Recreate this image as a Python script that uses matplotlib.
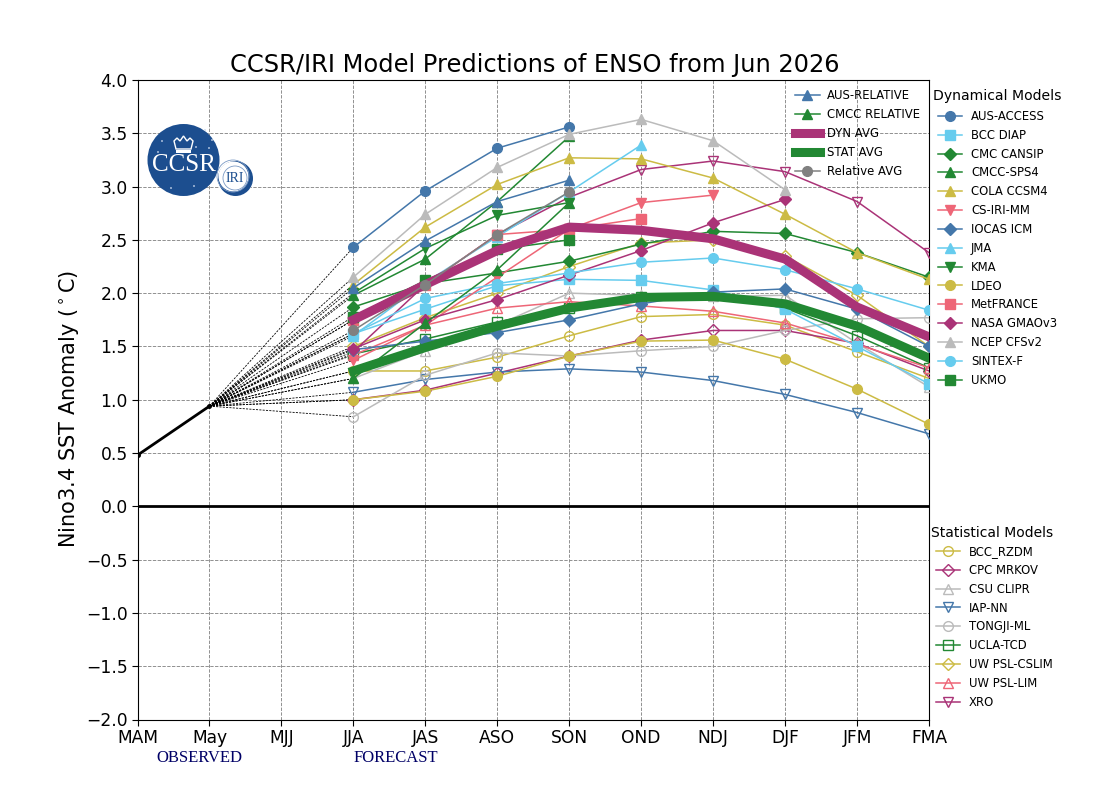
import matplotlib
matplotlib.use("Agg")
import matplotlib.pyplot as plt
from matplotlib.patches import Circle, Polygon

seasons = ["MAM", "May", "MJJ", "JJA", "JAS", "ASO", "SON", "OND", "NDJ", "DJF", "JFM", "FMA"]
yvals = [-2.0, -1.5, -1.0, -0.5, 0.0, 0.5, 1.0, 1.5, 2.0, 2.5, 3.0, 3.5, 4.0]
observed = [0.48, 0.94]

BLUE, CYAN, GREEN, YELLOW, RED, PURPLE, GREY = "#4477AA", "#66CCEE", "#228833", "#CCBB44", "#EE6677", "#AA3377", "#BBBBBB"

aus_access = [2.43, 2.96, 3.36, 3.56]
bcc_diap = [1.62, 1.85, 2.07, 2.13, 2.12, 2.03, 1.85, 1.50, 1.15]
cmc_cansip = [1.87, 2.09, 2.19, 2.30, 2.46, 2.58, 2.56, 2.38, 2.15]
cmcc_sps4 = [1.98, 2.32, 2.86, 3.47]
cola_ccsm4 = [2.08, 2.62, 3.02, 3.27, 3.26, 3.08, 2.74, 2.38, 2.13]
cs_iri_mm = [1.37, 1.70, 2.15, 2.60, 2.85, 2.92]
iocas_icm = [1.47, 1.55, 1.63, 1.75, 1.90, 2.01, 2.04, 1.85, 1.50]
jma = [1.60, 2.10, 2.53, 2.95, 3.39]
kma = [2.00, 2.42, 2.73, 2.85]
ldeo = [1.00, 1.08, 1.22, 1.41, 1.55, 1.56, 1.38, 1.10, 0.77]
metfrance = [1.75, 2.08, 2.55, 2.60, 2.70]
nasa_gmao = [1.48, 1.75, 1.94, 2.17, 2.40, 2.66, 2.88]
ncep_cfs = [2.15, 2.74, 3.18, 3.49, 3.63, 3.43, 2.97]
sintex_f = [1.62, 1.95, 2.09, 2.19, 2.29, 2.33, 2.22, 2.04, 1.84]
ukmo = [1.78, 2.12, 2.41, 2.50]

bcc_rzdm = [1.27, 1.27, 1.40, 1.60, 1.78, 1.80, 1.70, 1.45, 1.20]
cpc_mrkov = [1.00, 1.09, 1.25, 1.41, 1.56, 1.65, 1.65, 1.53, 1.27]
csu_clipr = [1.20, 1.46, 1.70, 2.00, 1.98, 1.97, 1.98, 1.53, 1.12]
iap_nn = [1.07, 1.19, 1.26, 1.29, 1.26, 1.18, 1.05, 0.88, 0.68]
tongji_ml = [0.84, 1.23, 1.44, 1.41, 1.46, 1.50, 1.65, 1.76, 1.77]
ucla_tcd = [1.43, 1.57, 1.73, 1.86, 1.96, 1.98, 1.86, 1.60, 1.30]
uw_cslim = [1.50, 1.77, 2.00, 2.25, 2.47, 2.50, 2.35, 1.98, 1.50]
uw_lim = [1.42, 1.70, 1.86, 1.92, 1.88, 1.83, 1.72, 1.52, 1.30]
xro = [1.45, 2.08, 2.55, 2.90, 3.16, 3.24, 3.14, 2.86, 2.38]

aus_relative = [2.05, 2.49, 2.86, 3.06]
cmcc_relative = [1.20, 1.72, 2.22, 2.85]
dyn_avg = [1.75, 2.08, 2.40, 2.62, 2.59, 2.51, 2.32, 1.87, 1.59]
stat_avg = [1.27, 1.49, 1.69, 1.86, 1.96, 1.97, 1.90, 1.69, 1.39]
relative_avg = [1.65, 2.08, 2.55, 2.95]

dynamical = [
    ("AUS-ACCESS", aus_access, BLUE, "o"), ("BCC DIAP", bcc_diap, CYAN, "s"),
    ("CMC CANSIP", cmc_cansip, GREEN, "D"), ("CMCC-SPS4", cmcc_sps4, GREEN, "^"),
    ("COLA CCSM4", cola_ccsm4, YELLOW, "^"), ("CS-IRI-MM", cs_iri_mm, RED, "v"),
    ("IOCAS ICM", iocas_icm, BLUE, "D"), ("JMA", jma, CYAN, "^"),
    ("KMA", kma, GREEN, "v"), ("LDEO", ldeo, YELLOW, "o"),
    ("MetFRANCE", metfrance, RED, "s"), ("NASA GMAOv3", nasa_gmao, PURPLE, "D"),
    ("NCEP CFSv2", ncep_cfs, GREY, "^"), ("SINTEX-F", sintex_f, CYAN, "o"),
    ("UKMO", ukmo, GREEN, "s"),
]
statistical = [
    ("BCC_RZDM", bcc_rzdm, YELLOW, "o"), ("CPC MRKOV", cpc_mrkov, PURPLE, "D"),
    ("CSU CLIPR", csu_clipr, GREY, "^"), ("IAP-NN", iap_nn, BLUE, "v"),
    ("TONGJI-ML", tongji_ml, GREY, "o"), ("UCLA-TCD", ucla_tcd, GREEN, "s"),
    ("UW PSL-CSLIM", uw_cslim, YELLOW, "D"), ("UW PSL-LIM", uw_lim, RED, "^"),
    ("XRO", xro, PURPLE, "v"),
]

MS = {"o": 7, "s": 7, "^": 7, "v": 7, "D": 6}

W, H = 1100, 800
fig = plt.figure(figsize=(11, 8), dpi=100)
ax = fig.add_axes([137.5 / W, 1 - 719.5 / H, (929 - 137.5) / W, (719.5 - 80) / H])
ax.set_xlim(0, len(seasons) - 1)
ax.set_ylim(yvals[0], yvals[-1])
ax.set_xticks(range(len(seasons)), seasons)
ax.set_yticks(yvals)
ax.set_yticklabels([f"{v:.1f}".replace("-", "\u2212") for v in yvals])
ax.tick_params(labelsize=12.3, length=4, pad=3)
ax.grid(True, color="#888888", ls="--", lw=0.65)
ax.set_axisbelow(True)
ax.set_title("CCSR/IRI Model Predictions of ENSO from Jun 2026", fontsize=17.4, pad=6, x=0.5 + 2 / 791.5)
ax.set_ylabel("Nino3.4 SST Anomaly ($^\\circ$C)", fontsize=15.0)
ax.yaxis.set_label_coords((81 - 137.5) / 791.5, (719.5 - 409) / 639.5)
ax.axhline(0, color="black", lw=2, zorder=2)

ax.plot(range(len(observed)), observed, color="black", lw=2, marker="o", ms=2.5, zorder=3)

def xs(v):
    return list(range(3, 3 + len(v)))

connected = [s[1] for s in dynamical + statistical] + [aus_relative, cmcc_relative, dyn_avg, stat_avg, relative_avg]
for v in connected:
    ax.plot([1, 3], [observed[1], v[0]], color="black", lw=0.6, ls="--", dashes=(2.5, 1.5), zorder=2.5)

dyn_handles, stat_handles = [], []
for name, v, c, m in statistical:
    h, = ax.plot(xs(v), v, color=c, marker=m, ms=MS[m], mfc="none", mec=c, mew=1.0, lw=1.1, label=name, zorder=4)
    stat_handles.append(h)
for name, v, c, m in dynamical:
    h, = ax.plot(xs(v), v, color=c, marker=m, ms=MS[m], mec=c, lw=1.1, label=name, zorder=5)
    dyn_handles.append(h)

a1, = ax.plot(xs(aus_relative), aus_relative, color=BLUE, marker="^", ms=7, lw=1.1, label="AUS-RELATIVE", zorder=5)
a2, = ax.plot(xs(cmcc_relative), cmcc_relative, color=GREEN, marker="^", ms=7, lw=1.1, label="CMCC RELATIVE", zorder=5)
a3, = ax.plot(xs(dyn_avg), dyn_avg, color=PURPLE, lw=6.5, label="DYN AVG", zorder=6, solid_joinstyle="round")
a4, = ax.plot(xs(stat_avg), stat_avg, color=GREEN, lw=6.5, label="STAT AVG", zorder=6, solid_joinstyle="round")
a5, = ax.plot(xs(relative_avg), relative_avg, color="gray", marker="o", ms=7, lw=1.1, label="Relative AVG", zorder=7)

legkw = dict(frameon=False, bbox_transform=fig.transFigure, loc="upper left", borderpad=0, borderaxespad=0, fontsize=8.4)
leg_top = fig.legend(handles=[a1, a2, a3, a4, a5], labelspacing=0.515, handlelength=2.14, handletextpad=0.6,
                     bbox_to_anchor=(795 / W, 1 - 89 / H), **legkw)
leg_dyn = fig.legend(handles=dyn_handles, labelspacing=0.5, handlelength=2.05, handletextpad=0.77,
                     bbox_to_anchor=(938 / W, 1 - 110 / H), **legkw)
leg_stat = fig.legend(handles=stat_handles, labelspacing=0.5, handlelength=2.05, handletextpad=0.77,
                      bbox_to_anchor=(936 / W, 1 - 545 / H), **legkw)
fig.text(933 / W, 1 - 96 / H, "Dynamical Models", fontsize=10.1, va="center", ha="left")
fig.text(931 / W, 1 - 533 / H, "Statistical Models", fontsize=10.0, va="center", ha="left")
fig.text(156 / W, 1 - 758 / H, "OBSERVED", family="Liberation Serif", fontsize=12, color="#000066", va="center")
fig.text(354 / W, 1 - 758 / H, "FORECAST", family="Liberation Serif", fontsize=12, color="#000066", va="center")

# logo drawn in a pixel-coordinate overlay
ov = fig.add_axes([0, 0, 1, 1], zorder=10)
ov.set_xlim(0, W); ov.set_ylim(H, 0); ov.axis("off"); ov.patch.set_alpha(0)
NAVY = "#1C4E8F"
ov.add_patch(Circle((183.5, 160), 36, color=NAVY, lw=0))
ov.text(183.5, 165, "CCSR", family="Liberation Serif", color="white", fontsize=18, ha="center", va="center")
ov.add_patch(Polygon([(176, 149), (174, 141), (177, 138), (180, 141), (183.5, 136), (187, 141), (190, 138), (193, 141), (191, 149)],
                     closed=True, fc=NAVY, ec="white", lw=1.0))
ov.add_patch(Polygon([(176, 150), (191, 150), (191, 152.5), (176, 152.5)], closed=True, fc="white", lw=0))
for sx, sy in [(158, 152), (171, 188), (194, 186), (212, 140), (209, 148), (205, 130), (162, 141), (196, 147)]:
    ov.add_patch(Circle((sx, sy), 0.9, color="#C8D6EA", lw=0))
ov.add_patch(Circle((235, 178), 18.5, color="white", lw=0))
ov.add_patch(Circle((235.5, 178.5), 17.5, color=NAVY, lw=0))
ov.add_patch(Circle((233.5, 176.5), 15, color="white", lw=0))
ov.add_patch(Circle((233, 176), 16, fill=False, ec="#7C9BC5", lw=0.6))
ov.add_patch(Circle((235, 178), 12, fill=False, ec="#7C9BC5", lw=0.6))
ov.text(235, 178, "IRI", family="Liberation Serif", color=NAVY, fontsize=10, ha="center", va="center")

fig.savefig("out.png", dpi=100)
